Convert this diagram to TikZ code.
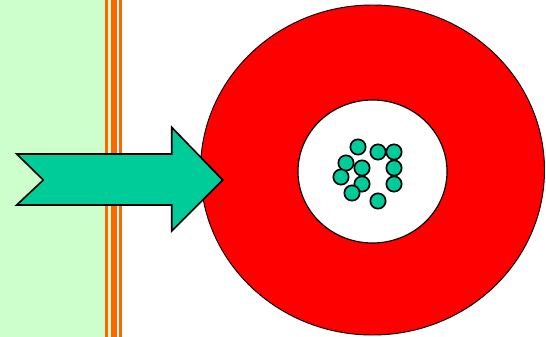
\documentclass[tikz,border=0pt]{standalone}
\usetikzlibrary{shapes.geometric}

\definecolor{bandgreen}{HTML}{CCFFCC}
\definecolor{stripeorange}{HTML}{FF6600}
\definecolor{cellred}{HTML}{FF0000}
\definecolor{tealfill}{HTML}{00CC99}

\tikzset{
    stripe/.style={fill=stripeorange, draw=none},
    particle/.style={draw, circle, fill=tealfill, line width=1.4pt, minimum size=0.46cm, inner sep=0pt},
}

\begin{document}
\begin{tikzpicture}[x=0.03cm, y=-0.03cm]
        \useasboundingbox (0,0) rectangle (546,337);

        % Left: light green band with orange stripes
        \fill[bandgreen] (0,0) rectangle (111,337);
        \fill[stripe] (105,0) rectangle (108.3,337);
        \fill[stripe] (111,0) rectangle (116.7,337);
        \fill[stripe] (119.3,0) rectangle (121.7,337);

        % Red ring with white core
        \node[draw, ellipse, fill=cellred, line width=0.8pt, minimum width=10.32cm, minimum height=9.9cm, inner sep=0pt] (ring) at (372.5,170) {};
        \node[draw, ellipse, fill=white, line width=1pt, minimum width=4.47cm, minimum height=4.29cm, inner sep=0pt] (core) at (372.5,171.5) {};

        % Particles inside the core
        \foreach \px/\py [count=\i] in {358/147, 378/152, 394/152, 346/163, 362/168, 394/168, 341/177, 362/184, 394/184, 352/193, 378/201} {
            \node[particle] (p\i) at (\px,\py) {};
        }

        % Notched arrow pointing into the ring
        \draw[fill=tealfill, line width=1.4pt, line join=miter]
            (16.7,154) -- (171.7,154) -- (171.7,127.3) -- (222.7,180) -- (171.7,231)
            -- (171.7,205) -- (16.7,205) -- (43.3,180) -- cycle;
\end{tikzpicture}
\end{document}
